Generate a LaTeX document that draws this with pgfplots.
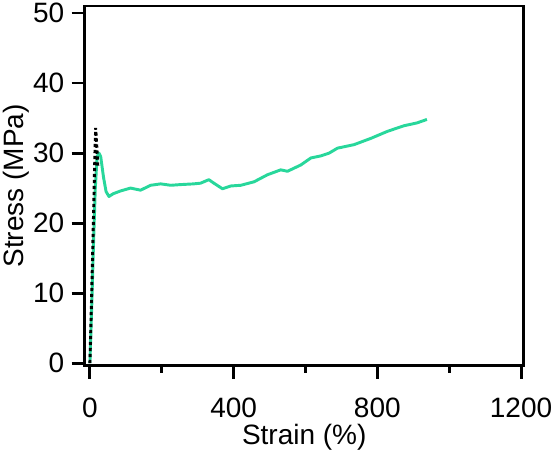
\documentclass[border=0pt]{standalone}
\usepackage{pgfplots}
\pgfplotsset{compat=1.18}
\usepackage{fontspec}
\setmainfont{Liberation Sans}
\definecolor{mygreen}{RGB}{40,215,155}
\begin{document}
\begin{tikzpicture}
\useasboundingbox (-63.4pt,-64.5pt) rectangle (352.9pt,274.5pt);
\begin{axis}[
  at={(0,0)}, anchor=south west,
  scale only axis, width=329.6pt, height=270pt,
  xmin=-15, xmax=1208, ymin=-0.4, ymax=51,
  xtick={0,400,800,1200}, minor xtick={200,600,1000},
  ytick={0,10,20,30,40,50},
  tick align=outside, xtick pos=bottom, ytick pos=left,
  major tick length=9.75pt, minor tick length=5.25pt,
  every tick/.style={black, line width=2.2pt},
  axis line style={line width=2.2pt},
  /pgf/number format/assume math mode=true,
  /pgf/number format/1000 sep={},
  tick label style={font=\fontsize{21}{25}\selectfont},
  xticklabel style={yshift=-11pt},
  yticklabel style={xshift=-2pt},
  label style={font=\fontsize{21}{25}\selectfont},
  xlabel={Strain (\%)}, ylabel={Stress (MPa)},
  xlabel style={yshift=2pt},
  ylabel style={yshift=-4pt},
  clip=false,
]
\addplot[mygreen, line width=2.2pt, line join=round] coordinates {
(0,0) (5,8) (10,17) (15,25) (20,29.5) (25,30) (30,29.5) (38,26.5) (45,24.5)
(53,23.8) (65,24.2) (86,24.6) (113,25) (141,24.7) (169,25.4) (197,25.6)
(225,25.4) (253,25.5) (289,25.6) (308,25.7) (331,26.2) (345,25.7) (369,24.9)
(392,25.3) (420,25.4) (457,25.9) (494,26.9) (531,27.6) (550,27.4) (587,28.3)
(615,29.3) (643,29.6) (666,30.0) (689,30.7) (735,31.2) (782,32.1) (828,33.1)
(874,33.9) (910,34.3) (938,34.8)
};
\addplot[black, line width=2.2pt, dash pattern=on 2.5pt off 2pt] coordinates {
(0,0) (5,10) (10,21) (14,30) (16,33.6) (18,32) (22,28.2)
};
\end{axis}
\end{tikzpicture}
\end{document}
